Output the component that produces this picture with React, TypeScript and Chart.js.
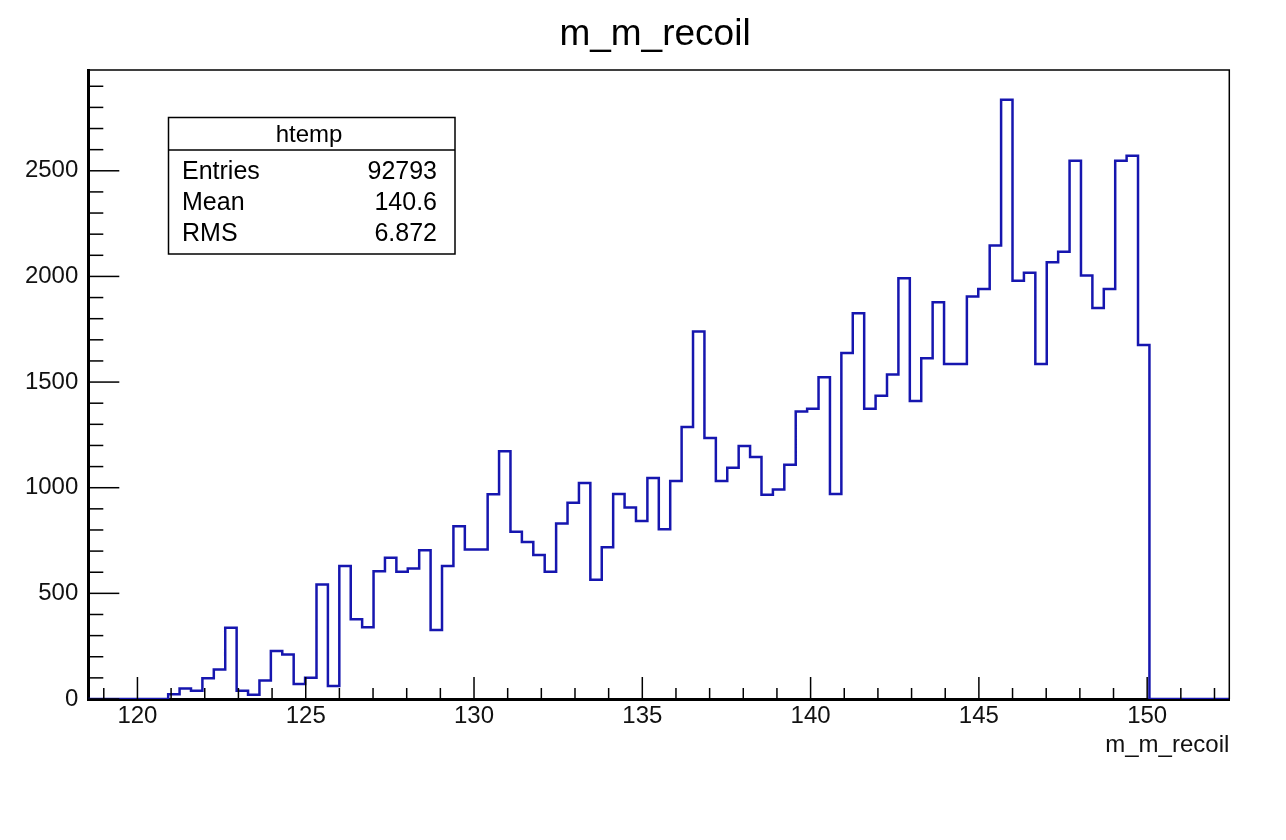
import React, { useEffect, useRef } from 'react';
import { Chart, registerables } from 'chart.js';

Chart.register(...registerables);

// ---------- data ----------
const TITLE = 'm_m_recoil';
const X_TITLE = 'm_m_recoil';
const X_MIN = 118.54;
const BIN_WIDTH = 0.339;
const Y_MAX = 2977;
const X_STEP = 1;
const X_LABEL_EVERY = 5;
const Y_STEP = 100;
const Y_LABEL_EVERY = 500;

const COUNTS = [
  0, 0, 0, 0, 0, 0, 0, 22, 50, 39,
  98, 140, 337, 39, 20, 87, 227, 211, 71, 101,
  542, 61, 630, 377, 339, 605, 668, 602, 618, 704,
  326, 630, 818, 707, 707, 969, 1172, 791, 743, 681,
  602, 831, 929, 1022, 564, 718, 970, 906, 843, 1046,
  803, 1032, 1287, 1739, 1235, 1032, 1095, 1197, 1145, 967,
  992, 1109, 1361, 1374, 1523, 970, 1637, 1826, 1374, 1435,
  1536, 1991, 1410, 1613, 1878, 1586, 1586, 1905, 1941, 2146,
  2836, 1980, 2017, 1586, 2067, 2117, 2547, 2004, 1851, 1941,
  2547, 2571, 1676, 0, 0, 0, 0, 0, 0, 0,
];

const STATS_NAME = 'htemp';
const STAT_LABELS = ['Entries', 'Mean', 'RMS'];
const STAT_VALUES = ['92793', '140.6', '6.872'];

// ---------- style ----------
const FONT = '"Liberation Sans", Arial, Helvetica, sans-serif';
const LINE_COLOR = 'rgb(22, 22, 175)';

const rootDecor = {
  id: 'rootDecor',
  afterDraw(chart: any) {
    const { ctx, chartArea, scales } = chart;
    const xs = scales.x;
    const ys = scales.y;
    ctx.save();
    ctx.strokeStyle = '#000';
    ctx.lineWidth = 1.5;
    // x tick marks (inside)
    xs.ticks.forEach((t: any) => {
      const px = xs.getPixelForValue(t.value);
      const len = t.value % X_LABEL_EVERY === 0 ? 22 : 11;
      ctx.beginPath();
      ctx.moveTo(px, chartArea.bottom);
      ctx.lineTo(px, chartArea.bottom - len);
      ctx.stroke();
    });
    // y tick marks (inside)
    ys.ticks.forEach((t: any) => {
      const py = ys.getPixelForValue(t.value);
      const len = t.value % Y_LABEL_EVERY === 0 ? 31 : 15;
      ctx.beginPath();
      ctx.moveTo(chartArea.left, py);
      ctx.lineTo(chartArea.left + len, py);
      ctx.stroke();
    });
    // top and right frame
    ctx.beginPath();
    ctx.moveTo(chartArea.left, chartArea.top);
    ctx.lineTo(chartArea.right, chartArea.top);
    ctx.lineTo(chartArea.right, chartArea.bottom);
    ctx.stroke();

    // title
    ctx.fillStyle = '#000';
    ctx.font = `37px ${FONT}`;
    ctx.textAlign = 'center';
    ctx.textBaseline = 'alphabetic';
    ctx.fillText(TITLE, 655, 45);

    // stats box
    const bx = 168.5, by = 117.5, bw = 286.5, bh = 136.5, hy = 150;
    ctx.fillStyle = '#fff';
    ctx.fillRect(bx, by, bw, bh);
    ctx.lineWidth = 1.5;
    ctx.strokeRect(bx, by, bw, bh);
    ctx.beginPath();
    ctx.moveTo(bx, hy);
    ctx.lineTo(bx + bw, hy);
    ctx.stroke();
    ctx.fillStyle = '#000';
    ctx.font = `24px ${FONT}`;
    ctx.textAlign = 'center';
    ctx.fillText(STATS_NAME, 309, 142);
    ctx.font = `25px ${FONT}`;
    const rowBase = [179, 210, 241];
    STAT_LABELS.forEach((lab, i) => {
      ctx.textAlign = 'left';
      ctx.fillText(lab, 182, rowBase[i]);
      ctx.textAlign = 'right';
      ctx.fillText(STAT_VALUES[i], 437, rowBase[i]);
    });
    ctx.restore();
  },
};

export default function App() {
  const ref = useRef<HTMLCanvasElement | null>(null);

  useEffect(() => {
    if (!ref.current) return;
    const points = COUNTS.map((c, i) => ({ x: X_MIN + i * BIN_WIDTH, y: c }));
    points.push({ x: X_MIN + COUNTS.length * BIN_WIDTH, y: COUNTS[COUNTS.length - 1] });
    const xMax = X_MIN + COUNTS.length * BIN_WIDTH;

    const chart = new Chart(ref.current, {
      type: 'line',
      data: {
        datasets: [
          {
            label: STATS_NAME,
            data: points,
            stepped: 'before',
            borderColor: LINE_COLOR,
            borderWidth: 2.5,
            pointRadius: 0,
            fill: false,
            tension: 0,
          },
        ],
      },
      plugins: [rootDecor],
      options: {
        animation: false,
        responsive: false,
        events: [],
        layout: { padding: { left: 0, top: 70, right: 56.7, bottom: 0 } },
        plugins: {
          legend: { display: false },
          tooltip: { enabled: false },
          title: { display: false },
        },
        scales: {
          x: {
            type: 'linear',
            min: X_MIN,
            max: xMax,
            grid: { display: false, drawTicks: false },
            border: { display: true, color: '#000', width: 3 },
            ticks: {
              stepSize: X_STEP,
              includeBounds: false,
              autoSkip: false,
              maxRotation: 0,
              padding: 3,
              color: '#111',
              font: { family: FONT, size: 24 },
              callback: (v: any) => (Number(v) % X_LABEL_EVERY === 0 ? String(v) : ''),
            },
            title: {
              display: true,
              text: X_TITLE,
              align: 'end',
              color: '#111',
              font: { family: FONT, size: 24 },
              padding: { top: 0, bottom: 80 },
            },
            afterFit: (s: any) => {
              s.height = 141;
            },
          },
          y: {
            type: 'linear',
            min: 0,
            max: Y_MAX,
            grid: { display: false, drawTicks: false },
            border: { display: true, color: '#000', width: 3 },
            ticks: {
              stepSize: Y_STEP,
              includeBounds: false,
              autoSkip: false,
              padding: 10,
              color: '#111',
              font: { family: FONT, size: 24 },
              callback: (v: any) => (Number(v) % Y_LABEL_EVERY === 0 ? String(v) : ''),
            },
            afterFit: (s: any) => {
              s.width = 88.3;
            },
          },
        },
      },
    } as any);
    return () => chart.destroy();
  }, []);

  return (
    <div style={{ position: 'absolute', left: 0, top: 0, width: 1286, height: 840, background: '#fff' }}>
      <canvas ref={ref} width={1286} height={840} style={{ display: 'block' }} />
    </div>
  );
}
